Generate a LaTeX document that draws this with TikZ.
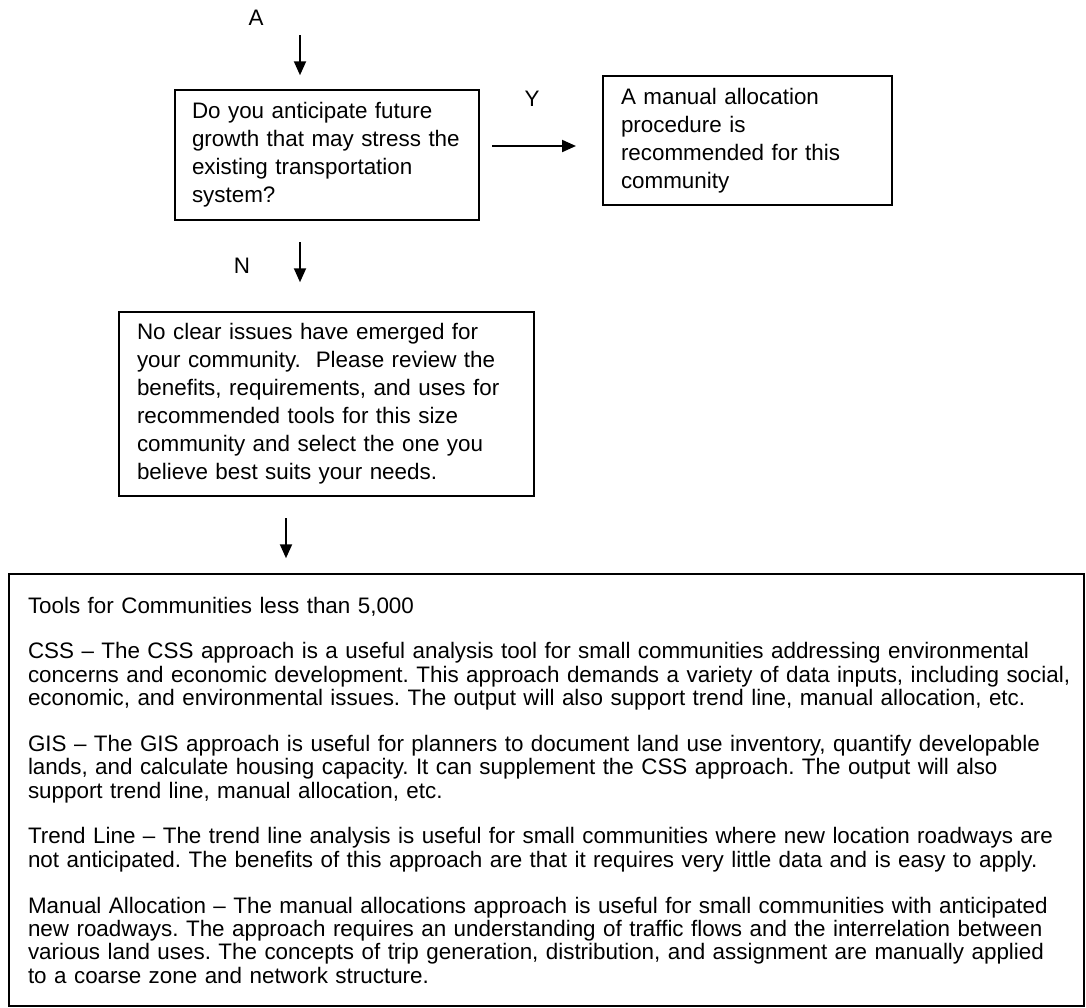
\documentclass[tikz,border=0pt]{standalone}
\usepackage{fontspec}
\setmainfont{Liberation Sans}
\usepackage{tikz}
\usetikzlibrary{positioning,arrows.meta}
\frenchspacing

\begin{document}
\begin{tikzpicture}[x=0.5pt,y=-0.5pt,
  txt/.style={font=\fontsize{11.2pt}{13.75pt}\selectfont,inner sep=0pt},
  qbox/.style={rectangle,draw=black,line width=0.75pt,align=left,inner xsep=9pt,inner ysep=4pt,font=\fontsize{11.2pt}{14pt}\selectfont},
  toolbox/.style={rectangle,draw=black,line width=0.75pt,align=left,inner xsep=9.5pt,inner ysep=4pt,font=\fontsize{11.2pt}{11.65pt}\selectfont},
  arr/.style={-{Triangle[length=7pt,width=6pt]},line width=1pt,black}]
  \useasboundingbox (0,0) rectangle (1086,1007);
  % question and answers
  \node[qbox,inner xsep=8.5pt,text width=135pt,minimum height=65pt] (q) at (327,155)
    {Do you anticipate future\\growth that may stress the\\existing transportation\\system?};
  \node[qbox,text width=126.5pt,minimum height=64.5pt] (rec) at (747.5,140.5)
    {A manual allocation\\procedure is\\recommended for this\\community};
  \node[qbox,text width=189.5pt,minimum height=92pt] (rev) at (326.5,404)
    {No clear issues have emerged for\\your community.\ \ Please review the\\benefits, requirements, and uses for\\recommended tools for this size\\community and select the one you\\believe best suits your needs.};
  \node[toolbox,text width=518.5pt,minimum height=216pt] (tools) at (546.5,790)
    {Tools for Communities less than 5,000\\[11.3pt]
     CSS – The CSS approach is a useful analysis tool for small communities addressing environmental\\
     \mbox{concerns and economic development. This approach demands a variety of data inputs, including social,}\\
     economic, and environmental issues. The output will also support trend line, manual allocation, etc.\\[11.3pt]
     GIS – The GIS approach is useful for planners to document land use inventory, quantify developable\\
     lands, and calculate housing capacity. It can supplement the CSS approach. The output will also\\
     support trend line, manual allocation, etc.\\[11.3pt]
     Trend Line – The trend line analysis is useful for small communities where new location roadways are\\
     not anticipated. The benefits of this approach are that it requires very little data and is easy to apply.\\[11.3pt]
     Manual Allocation – The manual allocations approach is useful for small communities with anticipated\\
     new roadways. The approach requires an understanding of traffic flows and the interrelation between\\
     various land uses. The concepts of trip generation, distribution, and assignment are manually applied\\
     to a coarse zone and network structure.};
  % labels
  \node[txt] (la) at (256,18) {A};
  \node[txt] (ly) at (532,99) {Y};
  \node[txt] (ln) at (242,266) {N};
  % arrow ends
  \coordinate (a0) at (300,35);
  \coordinate (y0) at (492,146);
  \coordinate (y1) at (576,146);
  \coordinate (n0) at (300,242);
  \coordinate (t0) at (286,518);
  \draw[arr,shorten >=7pt] (a0) -- (a0 |- q.north);
  \draw[arr] (y0) -- (y1);
  \draw[arr,shorten >=14.5pt] (n0) -- (n0 |- rev.north);
  \draw[arr,shorten >=7.5pt] (t0) -- (t0 |- tools.north);
\end{tikzpicture}
\end{document}
